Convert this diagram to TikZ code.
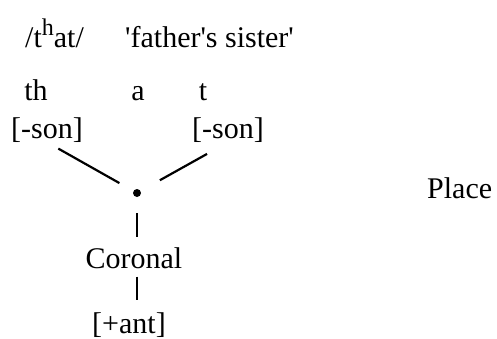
\documentclass[tikz,border=0pt]{standalone}
\usepackage{fontspec}
\setmainfont{Liberation Serif}
\tikzset{
    seg/.style = {inner sep=0pt, anchor=base},
    feat/.style = {inner sep=0pt, anchor=base},
    knot/.style = {circle, fill=black, inner sep=0pt, minimum size=8bp},
    assoc/.style = {line width=2.2bp}
}
\begin{document}
\begin{tikzpicture}
            [x=1bp, y=-1bp, font=\fontsize{30bp}{36bp}\selectfont]
            \useasboundingbox (0,0) rectangle (497,338);

            % form and gloss
            \node [seg, anchor=base west] (form) at (25,47) {/t\raisebox{0.4em}{\fontsize{24bp}{28bp}\selectfont h}at/};
            \node [seg, anchor=base west] (gloss) at (125,47) {\textquotesingle father\textquotesingle s sister\textquotesingle};

            % segments with their features
            \node [seg] (th) at (36,100) {th};
            \node [seg] (a) at (138,100) {a};
            \node [seg] (t) at (203,100) {t};
            \node [feat] (sonL) at (47,138) {[-son]};
            \node [feat] (sonR) at (228,138) {[-son]};

            % place node and below
            \node [knot] (place) at (137,193) {};
            \node [feat] (cor) at (134,268) {Coronal};
            \node [feat] (ant) at (129,333) {[+ant]};
            \node [seg, anchor=base west] (placelbl) at (427,198) {Place};

            \draw [assoc, shorten <=13bp, shorten >=16bp] (sonL.south) -- (place);
            \draw [assoc, shorten <=24bp, shorten >=22bp] (sonR.south) -- (place);
            \draw [assoc, shorten <=16bp, shorten >=10bp] (place) -- (place |- cor.north);
            \draw [assoc, shorten <=8bp, shorten >=12bp] (place |- cor.south) -- (place |- ant.north);
\end{tikzpicture}
\end{document}
